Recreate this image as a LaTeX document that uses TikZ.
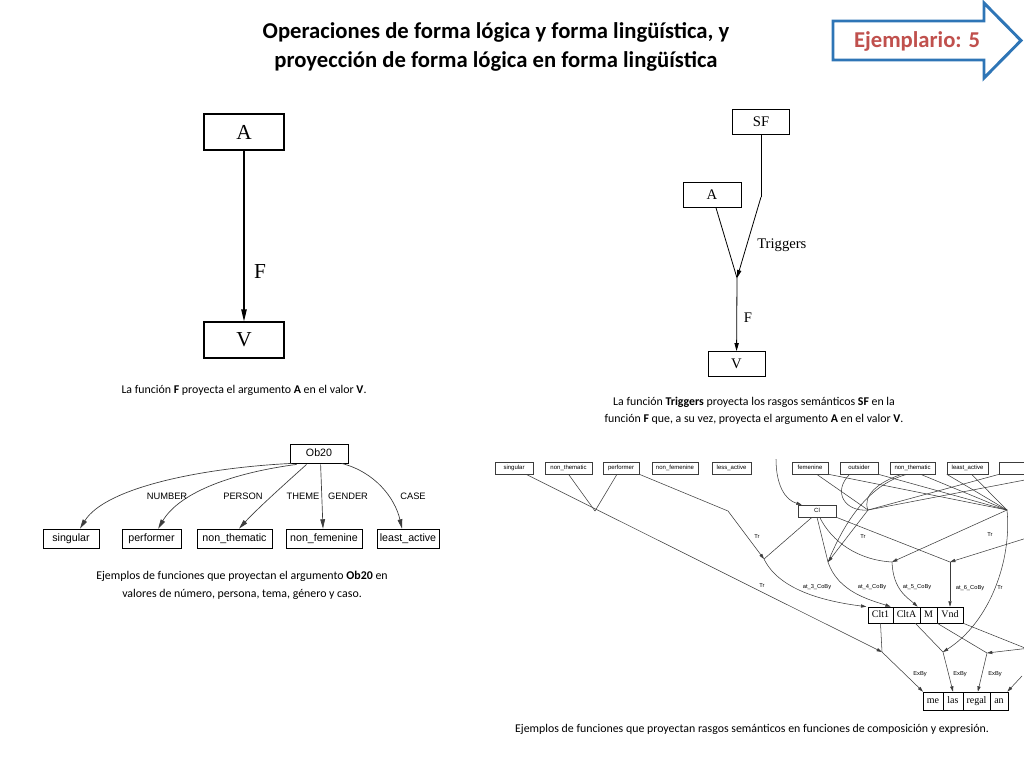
\documentclass[tikz,border=0pt]{standalone}
\usepackage{fontspec}
\setmainfont{Carlito}
\newfontfamily\tnr{Liberation Serif}
\newfontfamily\ars{Liberation Sans}
\usetikzlibrary{arrows.meta}
\definecolor{exred}{RGB}{192,80,77}
\definecolor{exblue}{RGB}{46,117,182}
\definecolor{ln}{RGB}{60,60,60}
\begin{document}
\begin{tikzpicture}[x=0.75pt,y=-0.75pt,
  bigbox/.style={draw, line width=0.8pt, minimum width=60pt, minimum height=27pt, inner sep=0pt, font=\tnr\fontsize{16}{16}\selectfont},
  sbox/.style={draw, line width=0.6pt, minimum height=18.75pt, inner sep=0pt, font=\tnr\fontsize{11}{11}\selectfont},
  obox/.style={draw, line width=0.6pt, minimum height=14.25pt, inner sep=0pt, text height=5.8pt, text depth=1.6pt, font=\ars\fontsize{8}{8}\selectfont},
  fbox/.style={draw=ln, line width=0.4pt, minimum height=9pt, inner sep=0pt, text height=3.3pt, text depth=0.9pt, font=\ars\fontsize{4.5}{4.5}\selectfont},
  cbox/.style={draw, line width=0.5pt, minimum height=12pt, inner sep=0pt, text height=5.2pt, text depth=1.2pt, font=\tnr\fontsize{7.5}{7.5}\selectfont},
  wbox/.style={draw, line width=0.5pt, minimum height=13.5pt, inner sep=0pt, text height=5.2pt, text depth=1.6pt, font=\tnr\fontsize{7.5}{7.5}\selectfont},
  captxt/.style={font=\fontsize{8.9}{13}\selectfont, align=center, inner sep=0pt},
  tlab/.style={font=\ars\fontsize{4.3}{4.3}\selectfont, inner sep=0pt},
  olab/.style={font=\ars\fontsize{7}{7}\selectfont, inner sep=0pt},
  serlab/.style={font=\tnr\fontsize{11}{11}\selectfont, inner sep=0pt},
  bigarr/.style={line width=0.9pt, -{Triangle[length=9pt,width=4pt]}},
  sarr/.style={line width=0.6pt, -{Triangle[length=6pt,width=3.2pt]}},
  oarr/.style={line width=0.5pt, draw=ln, -{Triangle[length=7pt,width=3.5pt]}},
  bl/.style={line width=0.4pt, draw=ln},
  barr/.style={line width=0.4pt, draw=ln, -{Triangle[length=4pt,width=2.4pt]}}
]
\useasboundingbox (0,0) rectangle (1024,768);
\fill[white] (0,0) rectangle (1024,768);

% Title
\node[font=\bfseries\fontsize{17}{21.75}\selectfont, align=center, inner sep=0pt] (title) at (496,46.5)
  {Operaciones de forma lógica y forma lingüística, y\\proyección de forma lógica en forma lingüística};

% Ejemplario arrow
\draw[exblue, line width=2.2pt, fill=white, line join=miter] (833,21) -- (984,21) -- (984,3) -- (1021,40.5) -- (984,78) -- (984,60) -- (833,60) -- cycle;
\node[font=\bfseries\fontsize{17}{17}\selectfont, text=exred, inner sep=0pt] (ej) at (917,41) {Ejemplario: 5};

% Top-left diagram
\node[bigbox] (A) at (244,132) {A};
\node[bigbox] (V) at (244,340) {V};
\draw[bigarr] (A) -- (V);
\node[font=\tnr\fontsize{16}{16}\selectfont, inner sep=0pt] (Flab) at (260,272) {F};
\node[captxt] (cap1) at (244,390) {La función \textbf{F} proyecta el argumento \textbf{A} en el valor \textbf{V}.};

% Top-right diagram
\node[sbox, minimum width=42.75pt] (SF) at (761,121.5) {SF};
\node[sbox, minimum width=43.5pt] (A2) at (712,194.5) {A};
\node[sbox, minimum width=42.75pt] (V2) at (736.5,364) {V};
\coordinate (J) at (737,278);
\coordinate (Bd) at (761,197);
\draw[line width=0.6pt] (SF) -- (Bd);
\draw[sarr] (Bd) -- (J);
\draw[line width=0.6pt] (A2) -- (J);
\draw[sarr] (J) -- (V2);
\node[serlab, anchor=west] (trig) at (757,245) {Triggers};
\node[serlab] (F2) at (748,318) {F};
\node[captxt] (cap2) at (754,411) {La función \textbf{Triggers} proyecta los rasgos semánticos \textbf{SF} en la\\función \textbf{F} que, a su vez, proyecta el argumento \textbf{A} en el valor \textbf{V}.};

% Ob20 diagram
\node[obox, minimum width=43.5pt] (ob) at (319,453.5) {Ob20};
\node[obox, minimum width=42pt] (sg) at (71,538.5) {singular};
\node[obox, minimum width=44.25pt] (pf) at (151.5,538.5) {performer};
\node[obox, minimum width=56.25pt] (nt) at (234.5,538.5) {non\_thematic};
\node[obox, minimum width=57pt] (nf) at (324,538.5) {non\_femenine};
\node[obox, minimum width=46.5pt] (la) at (408,538.5) {least\_active};
\draw[oarr] (ob.south west) ++(2,0) .. controls (200,468) and (105,488) .. ([xshift=6.75pt]sg.north);
\draw[oarr] (ob.south west) ++(7,1) .. controls (225,474) and (178,495) .. ([xshift=5pt]pf.north);
\draw[oarr] (ob.south west) ++(17,1) .. controls (287,482) and (258,508) .. ([xshift=3.4pt]nt.north);
\draw[oarr] (ob.south west) ++(31,1) -- ([xshift=-0.75pt]nf.north);
\draw[oarr] (ob.south west) ++(52,0) .. controls (375,472) and (395,498) .. ([xshift=-4.5pt]la.north);
\node[olab] (l1) at (167,496) {NUMBER};
\node[olab] (l2) at (243,496) {PERSON};
\node[olab] (l3) at (303,496) {THEME};
\node[olab] (l4) at (348,496) {GENDER};
\node[olab] (l5) at (413,496) {CASE};
\node[captxt] (cap3) at (242,585.5) {Ejemplos de funciones que proyectan el argumento \textbf{Ob20} en\\valores de número, persona, tema, género y caso.};

% Bottom-right diagram: top row
\node[fbox, minimum width=28.5pt] (bsg) at (514,468) {singular};
\node[fbox, minimum width=35.25pt] (bnt) at (568.5,468) {non\_thematic};
\node[fbox, minimum width=27pt] (bpf) at (621,468) {performer};
\node[fbox, minimum width=34.5pt] (bnf) at (675,468) {non\_femenine};
\node[fbox, minimum width=29.25pt] (bla) at (731.5,468) {less\_active};
\node[fbox, minimum width=27pt] (bfe) at (810,468) {femenine};
\node[fbox, minimum width=28.5pt] (bou) at (859,468) {outsider};
\node[fbox, minimum width=33.75pt] (bnt2) at (912.5,468) {non\_thematic};
\node[fbox, minimum width=30.75pt] (bla2) at (967.5,468) {least\_active};
\node[fbox, minimum width=30.75pt] (brx) at (1020,468) {};
\node[fbox, minimum width=28.5pt] (Cl) at (817,511) {Cl};

% middle row
\node[cbox, minimum width=18.75pt] (Clt1) at (880.5,615) {Clt1};
\node[cbox, minimum width=20.25pt] (CltA) at (906.5,615) {CltA};
\node[cbox, minimum width=12.75pt] (M) at (928.5,615) {M};
\node[cbox, minimum width=19.5pt] (Vnd) at (950,615) {Vnd};
% bottom row
\node[wbox, minimum width=15pt] (me) at (933,701) {me};
\node[wbox, minimum width=15pt] (las) at (953,701) {las};
\node[wbox, minimum width=20.25pt] (regal) at (976.5,701) {regal};
\node[wbox, minimum width=13.5pt] (an) at (999,701) {an};

% junctions
\coordinate (M1) at (595,511);
\coordinate (P1) at (728,511);
\coordinate (J2) at (764,559);
\coordinate (J3) at (828,562);
\coordinate (J4) at (892,562);
\coordinate (J5) at (950,562);
\coordinate (H1) at (868,510);
\coordinate (H2) at (1007,510);
\coordinate (J1) at (882,652);
\coordinate (J6) at (943,652);
\coordinate (J7) at (987,653);
\coordinate (R1) at (1030,537);
\coordinate (R2) at (1030,648);
\coordinate (R3) at (1030,650);
\coordinate (R4) at (1022,676);
\coordinate (R5) at (1030,479);
\coordinate (T0) at (776,459);

% edges left group
\draw[barr] ([xshift=9pt]bsg.south) -- (J1);
\draw[bl] (bnt.south) -- (M1);
\draw[bl] ([xshift=-3pt]bpf.south) -- (M1);
\draw[barr] (bpf.south east) -- (P1) -- (J2);
\node[tlab] (tr1) at (757,537) {Tr};
\node[tlab] (tr2) at (762,586) {Tr};

% into Cl
\draw[barr] (T0) .. controls (776,485) and (785,500) .. ([xshift=3pt]Cl.north west);
% from Cl
\draw[bl] ([xshift=-3.75pt]Cl.south) -- (J2);
\draw[bl] (Cl.south) -- (J3);
\draw[bl] ([xshift=2pt]Cl.south) .. controls (832,542) and (858,560) .. (J4);
\draw[bl] (Cl.south east) -- (J5);
\node[tlab] (tr3) at (863,537) {Tr};

% features to hubs
\draw[bl] ([xshift=5pt]bfe.south) -- (H1);
\draw[bl] (bfe.south east) -- (H2);
\draw[bl] ([xshift=-7pt]bou.south) .. controls (832,492) and (845,512) .. (H1);
\draw[bl] (bou.south east) -- (H2);
\draw[bl] ([xshift=-8pt]bnt2.south) .. controls (878,482) and (862,496) .. (H1);
\draw[bl] ([xshift=-4pt]bnt2.south) .. controls (870,484) and (845,520) .. (J3);
\draw[bl] ([xshift=6pt]bnt2.south) -- (H2);
\draw[bl] ([xshift=3pt]bla2.south) -- (H2);
\draw[bl] (bla2.south west) -- (H2);
\draw[bl] (brx.south west) -- (H1);
\draw[bl] (R5) -- (H1);
\draw[barr] (H1) -- (J3);

% from right hub
\draw[barr] (H2) -- (J4);
\draw[barr] (R1) -- (J5);
\node[tlab] (tr4) at (990,535) {Tr};
\draw[barr] (H2) .. controls (1012,560) and (990,622) .. (J6);
\node[tlab] (tr5) at (1000,588) {Tr};

% composition edges
\draw[barr] (J2) .. controls (780,592) and (830,602) .. ([xshift=-1pt]Clt1.north west);
\draw[barr] (J3) .. controls (838,592) and (870,600) .. ([xshift=-1.5pt]CltA.north west);
\draw[barr] (J4) .. controls (893,590) and (908,598) .. ([xshift=-1.5pt]M.north west);
\draw[barr] (J5) -- (Vnd.north);
\node[tlab] (c3) at (817,587) {at\_3\_CoBy};
\node[tlab] (c4) at (872,587) {at\_4\_CoBy};
\node[tlab] (c5) at (917,587) {at\_5\_CoBy};
\node[tlab] (c6) at (970,588) {at\_6\_CoBy};

% expression edges
\draw[bl] (Clt1.south) -- (J1);
\draw[bl] ([xshift=-3.75pt]CltA.south east) -- (J6);
\draw[bl] (M.south east) -- (J7);
\draw[barr] (R2) -- (J7);
\draw[bl] (Vnd.south east) -- (R3);
\draw[barr] (J1) -- ([xshift=-7.5pt]me.north);
\draw[barr] (J6) -- (las.north);
\draw[barr] (J7) -- ([xshift=1pt]regal.north);
\draw[barr] (R4) -- ([xshift=-0.75pt]an.north east);
\node[tlab] (e1) at (920,674) {ExBy};
\node[tlab] (e2) at (960,674) {ExBy};
\node[tlab] (e3) at (995,674) {ExBy};

\node[captxt] (cap4) at (752,729) {Ejemplos de funciones que proyectan rasgos semánticos en funciones de composición y expresión.};
\end{tikzpicture}
\end{document}
